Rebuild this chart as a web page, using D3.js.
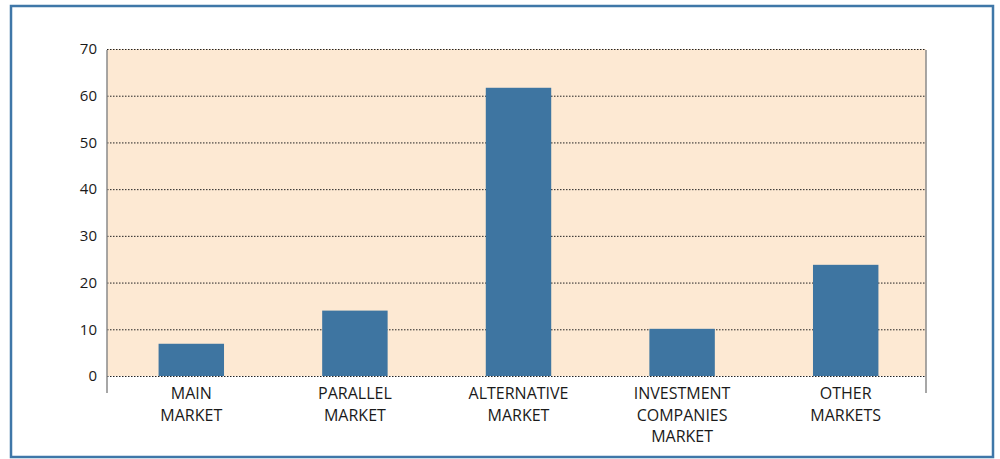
<!DOCTYPE html>
<html>
<head>
<meta charset="utf-8">
<script src="https://cdn.jsdelivr.net/npm/d3@7"></script>
<style>
  body { margin: 0; background: #fff; }
  svg { display: block; font-family: "Open Sans", "DejaVu Sans", sans-serif; }
</style>
</head>
<body>
<svg id="chart"></svg>
<script>
var width = 1000, height = 459;

var categories = [
    ["MAIN", "MARKET"],
    ["PARALLEL", "MARKET"],
    ["ALTERNATIVE", "MARKET"],
    ["INVESTMENT", "COMPANIES", "MARKET"],
    ["OTHER", "MARKETS"]
];
var values = [6.9, 14, 61.7, 10.1, 23.8];
var yTicks = [0, 10, 20, 30, 40, 50, 60, 70];

var svg = d3.select("#chart")
    .attr("width", width)
    .attr("height", height);

// outer frame
svg.append("rect")
    .attr("x", 11).attr("y", 6)
    .attr("width", 982).attr("height", 451)
    .attr("fill", "#fff")
    .attr("stroke", "#3f77a8")
    .attr("stroke-width", 2.5);

var plotLeft = 107, plotRight = 926, plotTop = 49, plotBottom = 376;

var x = d3.scaleBand()
    .domain(d3.range(categories.length))
    .range([plotLeft + 2.5, plotRight + 1.5])
    .paddingInner(0.6)
    .paddingOuter(0.3);

var y = d3.scaleLinear()
    .domain([0, 70])
    .range([plotBottom, plotTop]);

// plot background
svg.append("rect")
    .attr("x", plotLeft).attr("y", y(70))
    .attr("width", plotRight - plotLeft).attr("height", y(0) - y(70))
    .attr("fill", "#fde9d3");

// dotted gridlines
svg.selectAll("line.grid").data(yTicks).enter().append("line")
    .attr("class", "grid")
    .attr("x1", plotLeft).attr("x2", plotRight)
    .attr("y1", function(d) { return y(d) + 0.5; })
    .attr("y2", function(d) { return y(d) + 0.5; })
    .attr("stroke", "#222")
    .attr("stroke-width", 1)
    .attr("stroke-dasharray", "1.5,1.5");

// bars
svg.selectAll("rect.bar").data(values).enter().append("rect")
    .attr("class", "bar")
    .attr("x", function(d, i) { return x(i); })
    .attr("width", x.bandwidth())
    .attr("y", function(d) { return y(d); })
    .attr("height", function(d) { return y(0) - y(d); })
    .attr("fill", "#3e75a1");

// side lines
[plotLeft, plotRight].forEach(function(px) {
    svg.append("line")
        .attr("x1", px).attr("x2", px)
        .attr("y1", y(70) + 1).attr("y2", plotBottom + 17)
        .attr("stroke", "#8a8a8a")
        .attr("stroke-width", 1.5);
});

// y tick labels
svg.selectAll("text.ytick").data(yTicks).enter().append("text")
    .attr("class", "ytick")
    .attr("x", 97)
    .attr("y", function(d) { return y(d); })
    .attr("dy", "0.35em")
    .attr("text-anchor", "end")
    .attr("font-size", 15)
    .attr("fill", "#1a1a1a")
    .text(function(d) { return d; });

// category labels
var labels = svg.selectAll("text.xlab").data(categories).enter().append("text")
    .attr("class", "xlab")
    .attr("text-anchor", "middle")
    .attr("font-size", 16)
    .attr("fill", "#1a1a1a");

labels.selectAll("tspan").data(function(d, i) {
        return d.map(function(t) { return { t: t, i: i }; });
    })
    .enter().append("tspan")
    .attr("x", function(d) { return x(d.i) + x.bandwidth() / 2; })
    .attr("y", function(d, j) { return 399 + j * 21.5; })
    .text(function(d) { return d.t; });
</script>
</body>
</html>
